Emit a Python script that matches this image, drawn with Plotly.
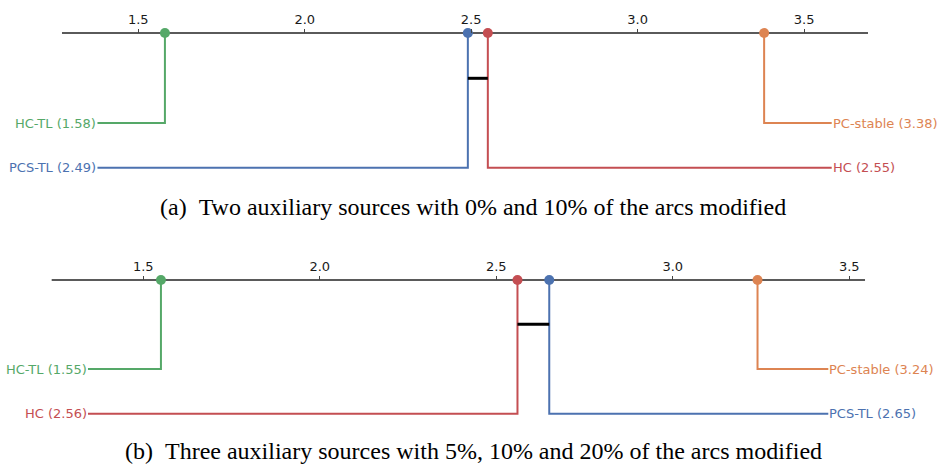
import plotly.graph_objects as go

W, H = 943, 467

# ---- data: average ranks per method ----
methods_a = ["HC-TL", "PCS-TL", "HC", "PC-stable"]
ranks_a = [1.58, 2.49, 2.55, 3.38]
methods_b = ["HC-TL", "HC", "PCS-TL", "PC-stable"]
ranks_b = [1.55, 2.56, 2.65, 3.24]

# groups joined by a critical-difference bar (no significant difference)
cd_groups_a = [("PCS-TL", "HC")]
cd_groups_b = [("HC", "PCS-TL")]

tick_vals = [1.5, 2.0, 2.5, 3.0, 3.5]
tick_text = ["1.5", "2.0", "2.5", "3.0", "3.5"]

captions = [
    "(a)\u2002Two auxiliary sources with 0% and 10% of the arcs modified",
    "(b)\u2002Three auxiliary sources with 5%, 10% and 20% of the arcs modified",
]

colors = {
    "HC-TL": "#55A868",
    "PCS-TL": "#4C72B0",
    "HC": "#C44E52",
    "PC-stable": "#DD8452",
}

SERIF = "Liberation Serif, 'DejaVu Serif', serif"
PAD = 12  # room above the rank axis so its line is not clipped

# ---- per-panel layout settings ----
panels = [
    dict(methods=methods_a, ranks=ranks_a, cd=cd_groups_a,
         xrange=[1.0846, 3.9173], axis_ext=[1.2708, 3.692],
         label_ends=[1.3774, 3.583],
         top_px=33, bottom_px=200, rows=[90, 134.7], cd_row=45.3,
         caption_y=207),
    dict(methods=methods_b, ranks=ranks_b, cd=cd_groups_b,
         xrange=[1.0941, 3.7654], axis_ext=[1.2405, 3.5445],
         label_ends=[1.3433, 3.4405],
         top_px=280, bottom_px=440, rows=[89, 133.7], cd_row=44.3,
         caption_y=451),
]

fig = go.Figure()
annotations = []

for i, p in enumerate(panels):
    xa = "x" if i == 0 else "x2"
    ya = "y" if i == 0 else "y2"
    xkey = "xaxis" if i == 0 else "xaxis2"
    ykey = "yaxis" if i == 0 else "yaxis2"

    # main rank axis line
    fig.add_trace(go.Scatter(
        x=p["axis_ext"], y=[0, 0], mode="lines", xaxis=xa, yaxis=ya,
        line=dict(color="#5a5a5a", width=2), hoverinfo="skip",
        showlegend=False, cliponaxis=False))

    order = sorted(range(len(p["methods"])), key=lambda k: p["ranks"][k])
    n = len(order)
    half = n // 2
    for pos, k in enumerate(order):
        name = p["methods"][k]
        r = p["ranks"][k]
        c = colors[name]
        if pos < half:
            row = p["rows"][pos]
            end = p["label_ends"][0]
            anchor = "right"
        else:
            row = p["rows"][n - 1 - pos]
            end = p["label_ends"][1]
            anchor = "left"
        fig.add_trace(go.Scatter(
            x=[r, r, end], y=[0, row, row], mode="lines",
            xaxis=xa, yaxis=ya, line=dict(color=c, width=2),
            hoverinfo="skip", showlegend=False, cliponaxis=False))
        fig.add_trace(go.Scatter(
            x=[r], y=[0], mode="markers", xaxis=xa, yaxis=ya,
            marker=dict(color=c, size=10, line=dict(width=0)),
            hoverinfo="skip", showlegend=False, cliponaxis=False))
        annotations.append(dict(
            x=end, y=row, xref=xa, yref=ya, text=f"{name} ({r:.2f})",
            showarrow=False, xanchor=anchor, yanchor="middle", borderpad=0,
            font=dict(family="DejaVu Sans", size=13, color=c)))

    # critical-difference bars
    lookup = dict(zip(p["methods"], p["ranks"]))
    for a, b in p["cd"]:
        fig.add_trace(go.Scatter(
            x=[lookup[a], lookup[b]], y=[p["cd_row"], p["cd_row"]],
            mode="lines", xaxis=xa, yaxis=ya,
            line=dict(color="black", width=3), hoverinfo="skip",
            showlegend=False, cliponaxis=False))

    axis_pos = 1 - p["top_px"] / H
    top = 1 - (p["top_px"] - PAD) / H
    bottom = 1 - p["bottom_px"] / H
    fig.update_layout({
        xkey: dict(range=p["xrange"], domain=[0, 1], anchor="free",
                   position=axis_pos, side="top",
                   tickvals=tick_vals, ticktext=tick_text, ticks="outside",
                   ticklen=4, tickwidth=1, tickcolor="#444444",
                   showline=False, showgrid=False, zeroline=False,
                   tickfont=dict(family="DejaVu Sans", size=13, color="#1a1a1a"),
                   fixedrange=True),
        ykey: dict(range=[p["bottom_px"] - p["top_px"], -PAD], domain=[bottom, top],
                   anchor=xa, visible=False, showgrid=False, zeroline=False,
                   fixedrange=True),
    })

    annotations.append(dict(
        x=0.5017, y=1 - p["caption_y"] / H, xref="paper", yref="paper",
        text=captions[i], showarrow=False, xanchor="center", yanchor="middle",
        font=dict(family=SERIF, size=24, color="black")))

fig.update_layout(
    width=W, height=H, margin=dict(l=0, r=0, t=0, b=0),
    plot_bgcolor="white", paper_bgcolor="white",
    annotations=annotations, showlegend=False,
)

fig.write_html("out.html")
